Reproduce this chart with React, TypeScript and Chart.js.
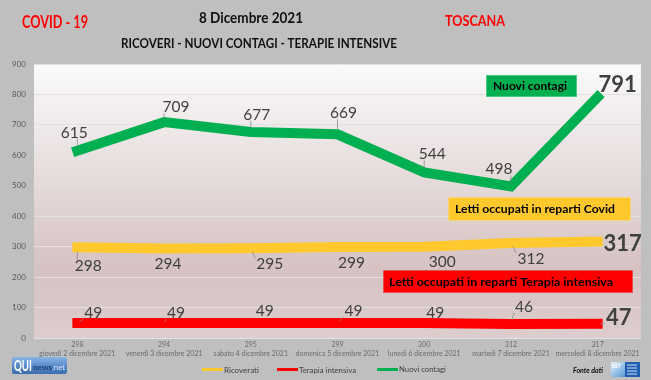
import React, { useEffect, useRef } from "react";
import { Chart, registerables } from "chart.js";
Chart.register(...registerables);

const dates = [
  "giovedì 2 dicembre 2021",
  "venerdì 3 dicembre 2021",
  "sabato 4 dicembre 2021",
  "domenica 5 dicembre 2021",
  "lunedì 6 dicembre 2021",
  "martedì 7 dicembre 2021",
  "mercoledì 8 dicembre 2021",
];
const ricoverati = [298, 294, 295, 299, 300, 312, 317];
const terapiaIntensiva = [49, 49, 49, 49, 49, 46, 47];
const nuoviContagi = [615, 709, 677, 669, 544, 498, 791];
const yMax = 900;
const yStep = 100;

const FONT = "Lato, 'Open Sans', sans-serif";
const COL_YELLOW = "#ffc82c";
const COL_RED = "#ff0000";
const COL_GREEN = "#00b050";

// label placement (pixel offsets from the point), leader flag
const greenLayout = [
  [-3, -18, 1], [12, -15, 1], [6, -17, 1], [6, -21, 1], [8, -18, 1], [-12, -17, 1], [20, -12, 0],
];
const yellowLayout = [
  [11, 19, 1], [4, 16, 0], [19, 16, 1], [14, 16, 0], [18, 15, 0], [20, 16, 1], [25, 2, 0],
];
const redLayout = [
  [16, -10, 1], [12, -10, 1], [14, -12, 0], [16, -12, 1], [11, -10, 0], [13, -17, 1], [21, -6, 1],
];

function fitFont(ctx: CanvasRenderingContext2D, text: string, weight: string, width: number, style = "normal") {
  ctx.font = `${style} ${weight} 100px ${FONT}`;
  const w = ctx.measureText(text).width;
  const size = (100 * width) / w;
  return `${style} ${weight} ${size.toFixed(2)}px ${FONT}`;
}

function drawFit(ctx: CanvasRenderingContext2D, text: string, x: number, y: number, width: number, weight: string, color: string, align: CanvasTextAlign = "center", style = "normal") {
  ctx.font = fitFont(ctx, text, weight, width, style);
  ctx.fillStyle = color;
  ctx.textAlign = align;
  ctx.textBaseline = "middle";
  ctx.fillText(text, x, y);
}

// draw text at a given font size, squeezed horizontally to a given width
function drawSized(ctx: CanvasRenderingContext2D, text: string, x: number, y: number, size: number, width: number, weight: string, color: string, align: CanvasTextAlign = "center") {
  ctx.save();
  ctx.font = `${weight} ${size}px ${FONT}`;
  const w = ctx.measureText(text).width;
  const k = width / w;
  ctx.translate(x, y);
  ctx.scale(k, 1);
  ctx.fillStyle = color;
  ctx.textAlign = align;
  ctx.textBaseline = "middle";
  ctx.fillText(text, 0, 0);
  ctx.restore();
}

const decorPlugin = {
  id: "decor",
  beforeDraw(chart: any) {
    const { ctx, chartArea: a, width, height } = chart;
    ctx.save();
    ctx.fillStyle = "#bfbfbf";
    ctx.fillRect(0, 0, width, height);
    const g = ctx.createLinearGradient(0, a.top, 0, a.bottom);
    g.addColorStop(0, "#fbfafa");
    g.addColorStop(0.35, "#e9e0e0");
    g.addColorStop(0.75, "#d6c2c2");
    g.addColorStop(1, "#ddcdcd");
    ctx.fillStyle = g;
    ctx.fillRect(a.left, a.top, a.right - a.left, a.bottom - a.top);
    ctx.restore();
  },
  afterDatasetsDraw(chart: any) {
    const { ctx } = chart;
    ctx.save();
    const drawLabels = (di: number, vals: number[], layout: number[][], boldSize: number) => {
      const meta = chart.getDatasetMeta(di);
      vals.forEach((v, i) => {
        const p = meta.data[i];
        const [dx, dy, leader] = layout[i];
        const last = i === vals.length - 1;
        const lx = p.x + dx;
        const ly = p.y + dy;
        const fs = last ? boldSize : 15.5;
        ctx.font = `${last ? "bold" : "normal"} ${fs}px ${FONT}`;
        ctx.fillStyle = "#404040";
        ctx.textAlign = "center";
        ctx.textBaseline = "middle";
        const t = String(v);
        const w = ctx.measureText(t).width;
        if (leader) {
          const hw = w / 2 + 1;
          const hh = fs * 0.38;
          const ex = Math.max(lx - hw, Math.min(p.x, lx + hw));
          const ey = Math.max(ly - hh, Math.min(p.y, ly + hh));
          ctx.strokeStyle = "#8c8c8c";
          ctx.lineWidth = 0.8;
          ctx.beginPath();
          const sx = p.x + (ex - p.x) * 0.35;
          const sy = p.y + (ey - p.y) * 0.35;
          ctx.moveTo(sx, sy);
          ctx.lineTo(ex, ey);
          ctx.stroke();
        }
        ctx.fillText(t, lx, ly);
      });
    };
    drawLabels(0, ricoverati, yellowLayout, 22);
    drawLabels(1, terapiaIntensiva, redLayout, 22);
    drawLabels(2, nuoviContagi, greenLayout, 22);

    // annotation boxes
    const box = (x: number, y: number, w: number, h: number, fill: string, stroke: string, text: string, tx: number, tw: number) => {
      ctx.fillStyle = fill;
      ctx.fillRect(x, y, w, h);
      ctx.strokeStyle = stroke;
      ctx.lineWidth = 1;
      ctx.strokeRect(x + 0.5, y + 0.5, w - 1, h - 1);
      drawSized(ctx, text, tx, y + h / 2 + 0.5, 11.5, tw, "bold", "#000000", "left");
    };
    box(486, 75, 91, 22, COL_GREEN, "#4cc985", "Nuovi contagi", 493, 74);
    box(448, 197, 183, 24, COL_YELLOW, "#f5d680", "Letti occupati in reparti Covid", 455, 160);
    box(383, 270, 250, 23, COL_RED, "#e85050", "Letti occupati in reparti Terapia intensiva", 389, 224);

    // titles
    drawSized(ctx, "COVID - 19", 55, 23, 16.5, 66, "bold", "#ff0000");
    drawSized(ctx, "TOSCANA", 475, 20.5, 15.5, 60, "bold", "#ff0000");
    drawSized(ctx, "8 Dicembre 2021", 251, 18, 16, 104, "bold", "#111111");
    drawSized(ctx, "RICOVERI - NUOVI CONTAGI - TERAPIE INTENSIVE", 259, 43, 14, 276, "bold", "#111111");

    // legend
    const leg = (x1: number, col: string, text: string, tw: number) => {
      ctx.strokeStyle = col;
      ctx.lineWidth = 3;
      ctx.beginPath();
      ctx.moveTo(x1, 369.5);
      ctx.lineTo(x1 + 21, 369.5);
      ctx.stroke();
      drawFit(ctx, text, x1 + 22, 370, tw, "normal", "#404040", "left");
    };
    leg(202, COL_YELLOW, "Ricoverati", 35);
    leg(277, COL_RED, "Terapia intensiva", 57);
    leg(377, COL_GREEN, "Nuovi contagi", 47);

    // source
    drawFit(ctx, "Fonte dati", 588, 371, 30, "bold", "#111111", "center", "italic");
    const sg = ctx.createLinearGradient(611, 362, 624, 377);
    sg.addColorStop(0, "#e8f2fb");
    sg.addColorStop(1, "#5a9ad8");
    ctx.fillStyle = sg;
    ctx.fillRect(611, 362, 14, 15);
    ctx.fillStyle = "#1f5fb0";
    ctx.fillRect(625, 362, 15, 15);
    ctx.fillStyle = "#ffffff";
    ctx.font = `bold 5px ${FONT}`;
    ctx.textAlign = "left";
    ctx.fillText("SST", 612, 366);
    ctx.fillStyle = "#d0e0f5";
    for (let k = 0; k < 4; k++) ctx.fillRect(627, 364.5 + k * 3, 10, 1);

    // QUInews logo
    const qg = ctx.createLinearGradient(0, 357, 0, 374);
    qg.addColorStop(0, "#8ab4e4");
    qg.addColorStop(0.5, "#5a8ccc");
    qg.addColorStop(1, "#3c6cb0");
    ctx.fillStyle = qg;
    ctx.beginPath();
    ctx.roundRect(12, 357, 55, 17, 2);
    ctx.fill();
    drawSized(ctx, "QUI", 14, 366, 15, 18, "bold", "#ffffff", "left");
    drawFit(ctx, "news", 33, 367, 19, "bold", "#1d3f78", "left");
    drawFit(ctx, ".net", 52, 367, 13, "normal", "#d8e6f7", "left");
    ctx.restore();
  },
};

export default function App() {
  const ref = useRef<HTMLCanvasElement>(null);
  useEffect(() => {
    if (!ref.current) return;
    const chart = new Chart(ref.current, {
      type: "line",
      data: {
        labels: dates.map((d, i) => [String(ricoverati[i]), d]),
        datasets: [
          { label: "Ricoverati", data: ricoverati, borderColor: COL_YELLOW, backgroundColor: COL_YELLOW, borderWidth: 10, pointRadius: 0, tension: 0, borderCapStyle: "square", borderJoinStyle: "miter" },
          { label: "Terapia intensiva", data: terapiaIntensiva, borderColor: COL_RED, backgroundColor: COL_RED, borderWidth: 10, pointRadius: 0, tension: 0, borderCapStyle: "square", borderJoinStyle: "miter" },
          { label: "Nuovi contagi", data: nuoviContagi, borderColor: COL_GREEN, backgroundColor: COL_GREEN, borderWidth: 10, pointRadius: 0, tension: 0, borderCapStyle: "square", borderJoinStyle: "miter" },
        ],
      },
      options: {
        animation: false,
        responsive: true,
        maintainAspectRatio: false,
        layout: { padding: { top: 64, right: 10, left: 0, bottom: 0 } },
        plugins: { legend: { display: false }, title: { display: false }, tooltip: { enabled: false } },
        scales: {
          x: {
            offset: true,
            grid: { display: false, drawTicks: false, offset: true },
            border: { display: false },
            ticks: { font: { size: 7, family: FONT }, color: "#6b6b6b", padding: 3, maxRotation: 0, autoSkip: false },
            afterFit(s: any) { s.height = 42; },
          },
          y: {
            min: 0,
            max: yMax,
            ticks: { stepSize: yStep, font: { size: 8, family: FONT }, color: "#595959", padding: 8 },
            grid: { color: "#e3e0e0", drawTicks: false, lineWidth: 1 },
            border: { display: false },
            afterFit(s: any) { s.width = 34; },
          },
        },
      },
      plugins: [decorPlugin],
    } as any);
    return () => chart.destroy();
  }, []);
  return (
    <div style={{ position: "absolute", left: 0, top: 0, width: 651, height: 380 }}>
      <canvas ref={ref} />
    </div>
  );
}
